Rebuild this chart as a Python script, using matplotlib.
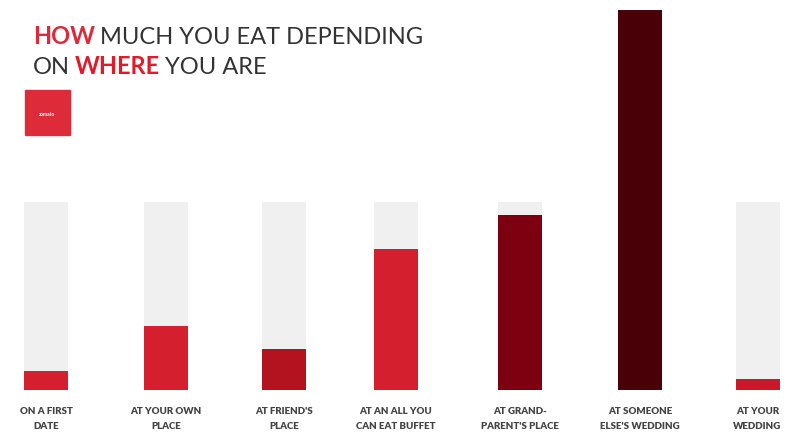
import matplotlib.pyplot as plt

plt.rcParams['font.family'] = ['Lato', 'DejaVu Sans']

labels = ['ON A FIRST\nDATE', 'AT YOUR OWN\nPLACE', "AT FRIEND'S\nPLACE",
          'AT AN ALL YOU\nCAN EAT BUFFET', 'AT GRAND-\nPARENT\'S PLACE',
          "AT SOMEONE\nELSE'S WEDDING", 'AT YOUR\nWEDDING']
values = [10, 34, 22, 75, 93, 202, 6]
full = [100, 100, 100, 100, 100, 100, 100]
colors = ['#d41f2f', '#d41f2f', '#b3121f', '#d41f2f', '#7d0010', '#4a0007', '#c8182a']

fig = plt.figure(figsize=(7.92, 4.34), dpi=100)

# bars: baseline at 390 px from top, 100 = 188 px
ax = fig.add_axes([0, 44 / 434, 1, 390 / 434])
x = [0, 1.01, 2.01, 2.95, 4.0, 5.01, 6.0]
ax.bar(x, full, width=0.37, color='#f0f0f0')
ax.bar(x, values, width=0.37, color=colors)
ax.set_xlim(-46 / 118.6, (792 - 46) / 118.6)
ax.set_ylim(0, 390 / 188 * 100)
ax.axis('off')

for xi, lab in zip(x, labels):
    ax.text(xi, -9, lab, ha='center', va='top', fontsize=7,
            fontweight='heavy', color='#444444', linespacing=1.9)

# title
fig.canvas.draw()
r = fig.canvas.get_renderer()


def words(parts, x0, y0):
    xp = x0
    for s, c, w in parts:
        t = fig.text(xp / 792, 1 - y0 / 434, s, color=c, fontsize=17,
                     fontweight=w, va='baseline', ha='left')
        bb = t.get_window_extent(renderer=r)
        xp += bb.width + 5


words([('HOW', '#dc2a3a', 'bold'), ('MUCH YOU EAT DEPENDING', '#333333', 'normal')], 33, 44)
words([('ON', '#333333', 'normal'), ('WHERE', '#e01b2b', 'bold'), ('YOU ARE', '#333333', 'normal')], 33, 74)

fig.patches.append(plt.Rectangle((25 / 792, 1 - 135 / 434), 45 / 792, 45 / 434,
                                 transform=fig.transFigure, color='#de2b3a'))
fig.text(47 / 792, 1 - 114 / 434, 'zomato', fontsize=3.5, color='white',
         ha='center', va='center', fontweight='bold')

plt.savefig('out.png', dpi=100)
